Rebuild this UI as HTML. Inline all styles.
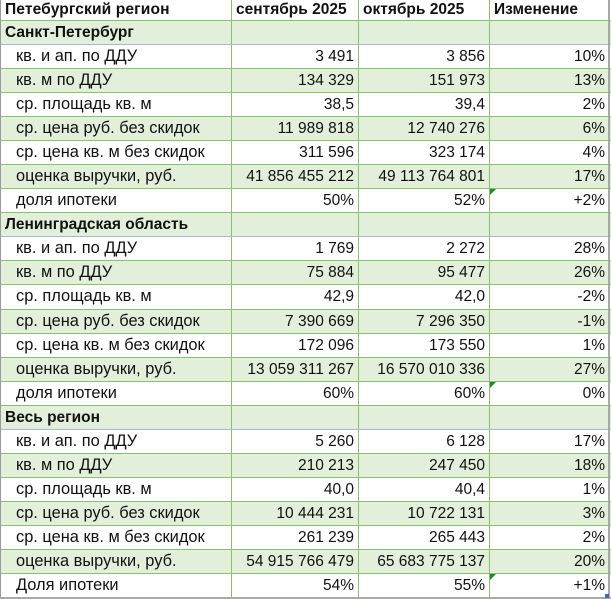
<!DOCTYPE html>
<html><head><meta charset="utf-8">
<style>
*{margin:0;padding:0;box-sizing:border-box}
html,body{width:611px;height:599px;background:#fff;overflow:hidden}
body{font-family:"Liberation Sans","DejaVu Sans",sans-serif;font-size:15.5px;color:#111}
#t{position:absolute;left:0;top:0;width:611px;height:599px;border-left:1px solid #9a9a9a}
.r{display:grid;grid-template-columns:231px 127px 131px 119px;height:24.08px;border-bottom:1px solid #8dbd6e;position:relative}
.r.h{height:20.6px;font-weight:bold}
.r.g{background:#e2efda}
.r.c{font-weight:bold;border-bottom:1px solid #a6b8d4}
.r>div{border-right:1px solid #8dbd6e;white-space:nowrap;overflow:hidden;line-height:23px;position:relative}
.r.h>div{line-height:20px}
.r>div:last-child{border-right:none}
.l{padding-left:15px;font-size:16.4px}
.c .l,.h .l{padding-left:4px;font-size:15.5px}
.h>div{padding-left:4px}
.h>div.w{font-size:15.6px;letter-spacing:0.1px}
.n{text-align:right;padding-right:4px}
.tri{position:absolute;left:0;top:0;width:0;height:0;border-top:6px solid #1e8a2e;border-right:6px solid transparent}
#rb{position:absolute;left:608px;top:0;width:2px;height:599px;background:#a8a8a8}
#bb{position:absolute;left:0;top:597px;width:611px;height:2px;background:#a8a8a8}
#hd{position:absolute;left:605px;top:594px;width:4px;height:4px;background:#3b6bbf}
</style></head><body>
<div id="t">
<div class="r h"><div class="w">Петебургский регион</div><div>сентябрь 2025</div><div>октябрь 2025</div><div>Изменение</div></div>

<div class="r g c"><div class="l">Санкт-Петербург</div><div></div><div></div><div></div></div>
<div class="r"><div class="l">кв. и ап. по ДДУ</div><div class="n">3 491</div><div class="n">3 856</div><div class="n">10%</div></div>
<div class="r g"><div class="l">кв. м по ДДУ</div><div class="n">134 329</div><div class="n">151 973</div><div class="n">13%</div></div>
<div class="r"><div class="l">ср. площадь кв. м</div><div class="n">38,5</div><div class="n">39,4</div><div class="n">2%</div></div>
<div class="r g"><div class="l">ср. цена руб. без скидок</div><div class="n">11 989 818</div><div class="n">12 740 276</div><div class="n">6%</div></div>
<div class="r"><div class="l">ср. цена кв. м без скидок</div><div class="n">311 596</div><div class="n">323 174</div><div class="n">4%</div></div>
<div class="r g"><div class="l">оценка выручки, руб.</div><div class="n">41 856 455 212</div><div class="n">49 113 764 801</div><div class="n">17%</div></div>
<div class="r"><div class="l">доля ипотеки</div><div class="n">50%</div><div class="n">52%</div><div class="n"><span class="tri"></span>+2%</div></div>

<div class="r g c"><div class="l">Ленинградская область</div><div></div><div></div><div></div></div>
<div class="r"><div class="l">кв. и ап. по ДДУ</div><div class="n">1 769</div><div class="n">2 272</div><div class="n">28%</div></div>
<div class="r g"><div class="l">кв. м по ДДУ</div><div class="n">75 884</div><div class="n">95 477</div><div class="n">26%</div></div>
<div class="r"><div class="l">ср. площадь кв. м</div><div class="n">42,9</div><div class="n">42,0</div><div class="n">-2%</div></div>
<div class="r g"><div class="l">ср. цена руб. без скидок</div><div class="n">7 390 669</div><div class="n">7 296 350</div><div class="n">-1%</div></div>
<div class="r"><div class="l">ср. цена кв. м без скидок</div><div class="n">172 096</div><div class="n">173 550</div><div class="n">1%</div></div>
<div class="r g"><div class="l">оценка выручки, руб.</div><div class="n">13 059 311 267</div><div class="n">16 570 010 336</div><div class="n">27%</div></div>
<div class="r"><div class="l">доля ипотеки</div><div class="n">60%</div><div class="n">60%</div><div class="n"><span class="tri"></span>0%</div></div>

<div class="r g c"><div class="l">Весь регион</div><div></div><div></div><div></div></div>
<div class="r"><div class="l">кв. и ап. по ДДУ</div><div class="n">5 260</div><div class="n">6 128</div><div class="n">17%</div></div>
<div class="r g"><div class="l">кв. м по ДДУ</div><div class="n">210 213</div><div class="n">247 450</div><div class="n">18%</div></div>
<div class="r"><div class="l">ср. площадь кв. м</div><div class="n">40,0</div><div class="n">40,4</div><div class="n">1%</div></div>
<div class="r g"><div class="l">ср. цена руб. без скидок</div><div class="n">10 444 231</div><div class="n">10 722 131</div><div class="n">3%</div></div>
<div class="r"><div class="l">ср. цена кв. м без скидок</div><div class="n">261 239</div><div class="n">265 443</div><div class="n">2%</div></div>
<div class="r g"><div class="l">оценка выручки, руб.</div><div class="n">54 915 766 479</div><div class="n">65 683 775 137</div><div class="n">20%</div></div>
<div class="r"><div class="l">Доля ипотеки</div><div class="n">54%</div><div class="n">55%</div><div class="n"><span class="tri"></span>+1%</div></div>
</div>
<div id="rb"></div><div id="bb"></div><div id="hd"></div>
</body></html>
